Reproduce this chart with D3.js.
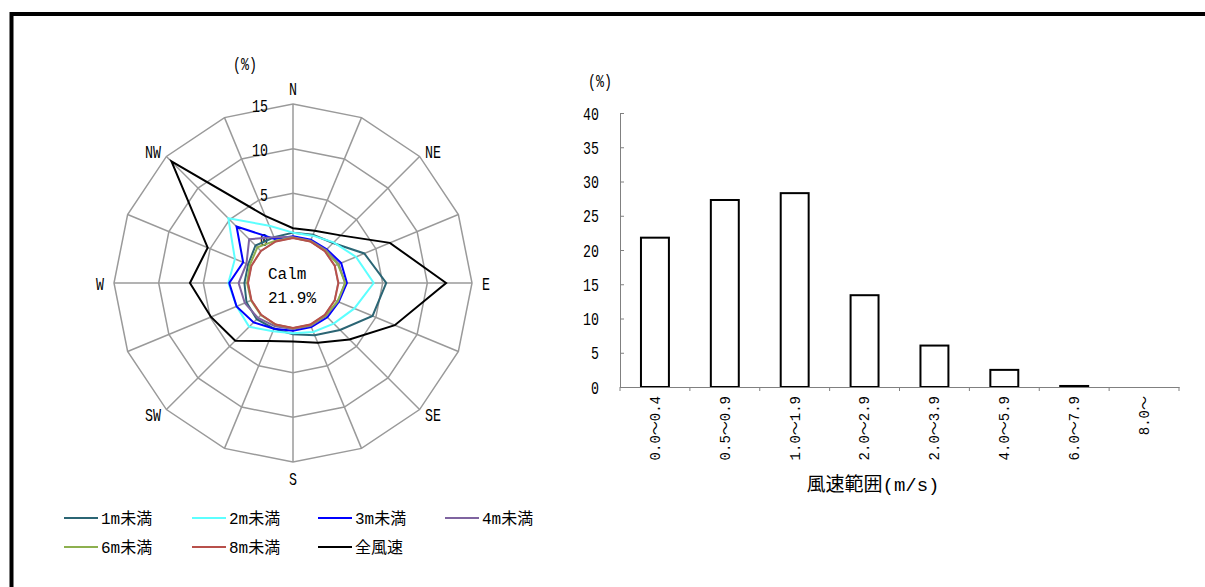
<!DOCTYPE html>
<html>
<head>
<meta charset="utf-8">
<script src="https://cdn.jsdelivr.net/npm/d3@7"></script>
<style>
  html, body { margin: 0; padding: 0; background: #fff; }
  svg { display: block; }
</style>
</head>
<body>
<svg id="chart" width="1205" height="587"></svg>
<script>
// ---------------- DATA ----------------
const directions = ["N","NNE","NE","ENE","E","ESE","SE","SSE","S","SSW","SW","WSW","W","WNW","NW","NNW"];
const dirLabels = ["N","NE","E","SE","S","SW","W","NW"];
const radarTicks = [0, 5, 10, 15];
const calmText = ["Calm", "21.9%"];

const seriesNames = ["1m未満","2m未満","3m未満","4m未満","6m未満","8m未満","全風速"];
const seriesColors = ["#2B6574","#5CFFFF","#0000FF","#7F64A0","#8DB04F","#B8504B","#000000"];
const s1m  = [0.6,0.8,1.3,3.6,5.4,4.6,2.4,1.3,0.7,0.5,0.7,0.6,0.4,0.4,0.9,0.5];
const s2m  = [0.6,0.7,1.4,2.6,4.0,2.4,1.4,0.9,0.6,0.8,1.9,1.8,2.2,2.0,5.2,1.9];
const s3m  = [0.2,0.2,0.3,0.8,1.0,0.5,0.4,0.3,0.3,0.5,1.2,1.8,2.1,1.0,3.9,0.3];
const s4m  = [0.1,0.1,0.2,0.5,0.8,0.4,0.2,0.15,0.1,0.2,0.5,0.8,1.05,0.6,1.9,0.5];
const s6m  = [0.02,0.02,0.05,0.4,0.8,0.35,0.1,0.05,0.02,0.02,0.05,0.05,0.1,0.2,0.6,0.1];
const s8m  = [0,0,0,0.02,0.05,0.02,0,0,0,0,0,0,0,0,0.05,0];
const sAll = [1.1,1.3,2.5,6.7,12.1,7.3,3.9,2.2,1.5,2.0,4.1,4.9,6.5,5.3,14.2,3.1];
const seriesValues = [s1m, s2m, s3m, s4m, s6m, s8m, sAll];

const barCategories = ["0.0～0.4","0.5～0.9","1.0～1.9","2.0～2.9","2.0～3.9","4.0～5.9","6.0～7.9","8.0～"];
const barValues = [21.8, 27.3, 28.3, 13.4, 6.05, 2.5, 0.15, 0];
const barTicks = [0,5,10,15,20,25,30,35,40];
const barXTitle = "風速範囲(m/s)";
const unitLabel = "(%)";

// ---------------- SETUP ----------------
const svg = d3.select("#chart");
const MONO = "'Liberation Mono', 'Noto Sans CJK JP', monospace";
const SX = 0.7;
const FS = 19;
svg.append("rect").attr("width",1205).attr("height",587).attr("fill","#fff");

// frame
svg.append("path").attr("d","M11.5,587 V14 H1205")
  .attr("fill","none").attr("stroke","#000").attr("stroke-width",4);

function label(g, x, y, str, opts = {}) {
  return g.append("text")
    .attr("transform", `translate(${x},${y}) scale(${opts.sx ?? SX},1)`)
    .attr("text-anchor", opts.anchor || "middle")
    .attr("dy", opts.dy ?? "0.35em")
    .attr("font-family", MONO)
    .attr("font-size", opts.size || FS)
    .attr("fill", "#000")
    .text(str);
}

// ---------------- RADAR ----------------
const cx = 293, cy = 283;
const r = d3.scaleLinear().domain([0, 15]).range([45, 179]);
const ang = d3.scalePoint().domain(directions).range([0, 2*Math.PI*15/16]);
const radar = svg.append("g").attr("transform", `translate(${cx},${cy})`);

const ringLine = d3.lineRadial()
  .angle((d) => ang(d.dir))
  .radius((d) => r(d.v))
  .curve(d3.curveLinearClosed);

// rings
radarTicks.forEach(t => {
  radar.append("path")
    .attr("d", ringLine(directions.map(dir => ({dir, v: t}))))
    .attr("fill","none").attr("stroke","#9a9a9a").attr("stroke-width",1.5);
});
// spokes
directions.forEach(dir => {
  const a = ang(dir);
  radar.append("line")
    .attr("x1", r(0)*Math.sin(a)).attr("y1", -r(0)*Math.cos(a))
    .attr("x2", r(15)*Math.sin(a)).attr("y2", -r(15)*Math.cos(a))
    .attr("stroke","#9a9a9a").attr("stroke-width",1.5);
});
// tick labels
radarTicks.forEach(t => {
  label(radar, -25, -r(t) + 1, String(t), {anchor: "end"});
});
// direction labels
dirLabels.forEach((dir, i) => {
  const a = ang(dir);
  const diag = i % 2 === 1;
  const rx = diag ? 198 : 193, ry = diag ? 186 : 195;
  label(radar, rx*Math.sin(a), -ry*Math.cos(a), dir);
});
// series
seriesValues.forEach((vals, i) => {
  radar.append("path")
    .attr("d", ringLine(vals.map((v, k) => ({dir: directions[k], v}))))
    .attr("fill","none")
    .attr("stroke", seriesColors[i])
    .attr("stroke-width", 2)
    .attr("stroke-linejoin","miter");
});
// calm text
radar.append("text").attr("x", -25).attr("y", -4)
  .attr("font-family", MONO).attr("font-size", 16).text(calmText[0]);
radar.append("text").attr("x", -25).attr("y", 20)
  .attr("font-family", MONO).attr("font-size", 16).text(calmText[1]);

// radar unit
label(svg, 245, 63, unitLabel);

// legend
const legCols = [64, 192, 318, 445];
const legRows = [518, 547];
seriesNames.forEach((name, i) => {
  const x = legCols[i % 4], y = legRows[Math.floor(i / 4)];
  svg.append("line").attr("x1", x).attr("x2", x + 34).attr("y1", y).attr("y2", y)
    .attr("stroke", seriesColors[i]).attr("stroke-width", 2);
  svg.append("text").attr("x", x + 37).attr("y", y).attr("dy","0.36em")
    .attr("font-family", MONO).attr("font-size", 16).text(name);
});

// ---------------- BAR CHART ----------------
const x0 = 620, x1 = 1179, yTop = 113, yBot = 387;
const y = d3.scaleLinear().domain([0, 40]).range([yBot, yTop]);
const xb = d3.scaleBand().domain(barCategories).range([x0, x1]).padding(0);
const bars = svg.append("g");

// y axis
const yAxis = d3.axisLeft(y).tickValues(barTicks).tickSizeInner(-4).tickSizeOuter(0).tickPadding(21);
const yg = svg.append("g").attr("transform", `translate(${x0},0)`).call(yAxis);
yg.select(".domain").attr("stroke","#808080");
yg.selectAll(".tick line").attr("stroke","#808080");
yg.selectAll(".tick text").each(function() {
  const t = d3.select(this);
  const xx = +t.attr("x");
  t.attr("x", 0).attr("transform", `translate(${xx},0) scale(${SX},1)`)
   .attr("font-family", MONO).attr("font-size", FS).attr("fill","#000");
});

// x axis
const xAxis = d3.axisBottom(xb).tickSize(0).tickFormat(() => "");
const xg = svg.append("g").attr("transform", `translate(0,${yBot})`).call(xAxis);
xg.select(".domain").attr("stroke","#808080");
const bounds = barCategories.map(c => xb(c)).concat([x1]);
xg.selectAll(".bnd").data(bounds).enter().append("line")
  .attr("x1", d => d).attr("x2", d => d).attr("y1", 0).attr("y2", 4)
  .attr("stroke","#808080");

// bars
bars.selectAll("rect").data(barCategories).enter().append("rect")
  .attr("x", (c) => xb(c) + xb.bandwidth()*0.3)
  .attr("width", xb.bandwidth()*0.4)
  .attr("y", (c, i) => y(barValues[i]))
  .attr("height", (c, i) => yBot - y(barValues[i]))
  .attr("fill","#fff").attr("stroke","#000").attr("stroke-width",2);
svg.node().appendChild(xg.node());

// x category labels
barCategories.forEach(c => {
  svg.append("text")
    .attr("transform", `translate(${xb(c) + xb.bandwidth()/2},${yBot + 9}) rotate(-90)`)
    .attr("text-anchor","end").attr("dy","0.35em")
    .attr("font-family", MONO).attr("font-size", 14).text(c);
});

// x title
svg.append("text").attr("x", 873).attr("y", 491)
  .attr("text-anchor","middle")
  .attr("font-family", MONO).attr("font-size", 19).text(barXTitle);

// bar unit
label(svg, 600, 80, unitLabel);
</script>
</body>
</html>
